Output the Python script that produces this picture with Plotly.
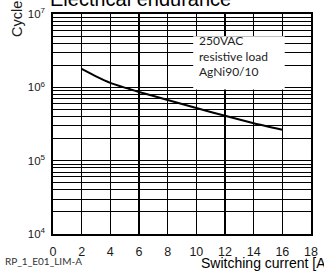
import plotly.graph_objects as go

# Data
current_a = [2, 3, 4, 5, 6, 8, 10, 12, 14, 16]
cycles = [1.78e6, 1.41e6, 1.15e6, 0.99e6, 0.866e6, 0.673e6, 0.523e6, 0.409e6, 0.324e6, 0.264e6]

x_ticks = [0, 2, 4, 6, 8, 10, 12, 14, 16, 18]
decades = [4, 5, 6, 7]
y_tickvals = []
y_ticktext = []
for d in decades:
    for k in range(1, 10):
        if d == 7 and k > 1:
            break
        y_tickvals.append(k * 10 ** d)
        y_ticktext.append(f"10<sup>{d}</sup>" if k == 1 else "")

title_text = "Electrical endurance"
y_title = "Cycles"
x_title = "Switching current [A]"
box_lines = ["250VAC", "resistive load", "AgNi90/10"]
code_text = "RP_1_E01_LIM-A"

W, H = 324, 273
ml, mr, mt, mb = 53, 6, 7, 39
pw, ph = W - ml - mr, H - mt - mb

def px_x(p):
    return (p - ml) / pw

def px_y(p):
    return 1 - (p - mt) / ph

fig = go.Figure()
fig.add_trace(go.Scatter(
    x=current_a, y=cycles, mode="lines",
    line=dict(color="black", width=2, shape="spline", smoothing=0.6),
    showlegend=False, hoverinfo="skip",
))

fig.update_layout(
    width=W, height=H,
    margin=dict(l=ml, r=mr, t=mt, b=mb, pad=0),
    paper_bgcolor="white", plot_bgcolor="white",
    font=dict(family="Liberation Sans, Arial, sans-serif", color="#1a1a1a"),
    xaxis=dict(
        range=[0, 18], tickvals=x_ticks, ticktext=[str(v) for v in x_ticks],
        showgrid=True, gridcolor="black", gridwidth=1.6,
        zeroline=False, showline=True, linecolor="black", linewidth=1.6, mirror=True,
        ticks="", tickfont=dict(size=12.5, color="#1a1a1a"),
        ticklabelstandoff=5,
    ),
    yaxis=dict(
        type="log", range=[4, 7], tickvals=y_tickvals, ticktext=y_ticktext,
        showgrid=True, gridcolor="black", gridwidth=1,
        zeroline=False, showline=True, linecolor="black", linewidth=1.6, mirror=True,
        ticks="", tickfont=dict(size=11.5, color="#1a1a1a"),
        ticklabelstandoff=4,
    ),
    shapes=[dict(
        type="rect", xref="paper", yref="paper",
        x0=px_x(197), x1=px_x(291), y0=px_y(85), y1=px_y(30),
        fillcolor="white", line=dict(width=0), layer="above",
    )],
    annotations=[
        dict(text=title_text, xref="paper", yref="paper", x=px_x(48), y=px_y(-8),
             xanchor="left", yanchor="middle", showarrow=False,
             font=dict(size=20, color="black", family="Liberation Sans, Arial, sans-serif")),
        dict(text=y_title, xref="paper", yref="paper", x=px_x(16), y=px_y(8),
             xanchor="center", yanchor="middle", textangle=-90, showarrow=False,
             font=dict(size=14.5, color="#1a1a1a")),
        dict(text=x_title, xref="paper", yref="paper", x=px_x(203), y=px_y(264),
             xanchor="left", yanchor="middle", showarrow=False,
             font=dict(size=14, color="black")),
        dict(text=code_text, xref="paper", yref="paper", x=px_x(2), y=px_y(262),
             xanchor="left", yanchor="middle", showarrow=False,
             font=dict(size=10, color="#333333", family="Lato, Open Sans, sans-serif")),
        dict(text="<br>".join(box_lines), xref="paper", yref="paper", x=px_x(201), y=px_y(50),
             xanchor="left", yanchor="middle", align="left", showarrow=False,
             font=dict(size=12, color="#222222", family="Lato, Open Sans, sans-serif")),
    ],
)

fig.write_html(
    "out.html",
    config={"displayModeBar": False, "staticPlot": True},
    post_script="document.body.style.margin='0';document.body.style.overflow='hidden';",
)
